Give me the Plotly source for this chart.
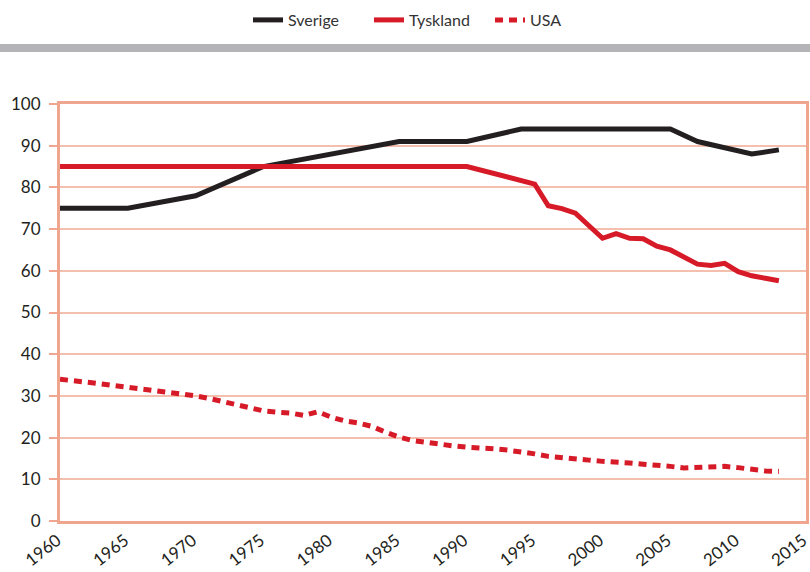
import plotly.graph_objects as go

years_sverige = [1960, 1965, 1970, 1975, 1985, 1990, 1994, 2005, 2007, 2011, 2013]
sverige = [75, 75, 78, 85, 91, 91, 94, 94, 91, 88, 89]

years_tyskland = [1960, 1990, 1995, 1996, 1997, 1998, 1999, 2000, 2001, 2002, 2003,
                  2004, 2005, 2006, 2007, 2008, 2009, 2010, 2011, 2012, 2013]
tyskland = [85, 85, 80.8, 75.6, 74.9, 73.8, 70.8, 67.8, 68.9, 67.8, 67.7,
            65.9, 65.0, 63.4, 61.6, 61.3, 61.8, 59.8, 58.8, 58.2, 57.6]

years_usa = list(range(1960, 2014))
usa = [34.0, 33.7, 33.3, 32.9, 32.5, 32.1, 31.7, 31.2, 30.8, 30.4,
       30.0, 29.4, 28.6, 27.9, 27.1, 26.4, 26.1, 25.9, 25.3, 26.2,
       24.9, 24.0, 23.5, 22.7, 21.3, 20.1, 19.3, 18.8, 18.5, 18.0,
       17.7, 17.6, 17.3, 17.0, 16.7, 16.1, 15.5, 15.1, 14.9, 14.6,
       14.3, 14.2, 13.9, 13.6, 13.4, 13.1, 12.7, 12.8, 13.2, 13.1,
       12.8, 12.3, 12.0, 11.9]

x_ticks = [1960, 1965, 1970, 1975, 1980, 1985, 1990, 1995, 2000, 2005, 2010, 2015]
y_ticks = [0, 10, 20, 30, 40, 50, 60, 70, 80, 90, 100]

BLACK = "#231f20"
RED = "#d71a28"
AXIS = "#f0a68e"
GRID = "#f5bfae"
FONT = "Lato, 'Open Sans', sans-serif"

fig = go.Figure()
fig.add_trace(go.Scatter(x=years_sverige, y=sverige, mode="lines", name="Sverige",
                         line=dict(color=BLACK, width=5)))
fig.add_trace(go.Scatter(x=years_tyskland, y=tyskland, mode="lines", name="Tyskland",
                         line=dict(color=RED, width=5)))
fig.add_trace(go.Scatter(x=years_usa, y=usa, mode="lines", name="USA",
                         line=dict(color=RED, width=5, dash="8px,6px")))

L, R, T, B = 60, 4, 104, 51
W, H = 810, 572
pw = W - L - R
ph = H - T - B

fig.update_layout(
    width=W, height=H,
    margin=dict(l=L, r=R, t=T, b=B, autoexpand=False),
    paper_bgcolor="white", plot_bgcolor="white",
    font=dict(family=FONT, color=BLACK, size=16),
    showlegend=True,
    legend=dict(orientation="h", x=(248 - L) / pw, xanchor="left",
                y=1 + (T - 20) / ph, yanchor="middle",
                entrywidth=76, entrywidthmode="pixels",
                font=dict(size=16, color="#333333"), bgcolor="rgba(0,0,0,0)"),
    xaxis=dict(range=[1960, 2015], tickvals=x_ticks, ticktext=[str(v) for v in x_ticks],
               tickangle=-38, showgrid=False, zeroline=False,
               showline=True, linecolor=AXIS, linewidth=3, mirror=True,
               ticks="", ticklabeloverflow="allow", ticklabelshift=-3,
               tickfont=dict(size=17, color=BLACK)),
    yaxis=dict(range=[0, 100], tickvals=y_ticks, showgrid=True, gridcolor=GRID, gridwidth=1.5,
               zeroline=False, showline=True, linecolor=AXIS, linewidth=3, mirror=True,
               ticks="outside", ticklen=8, tickcolor=AXIS, tickwidth=2,
               ticklabelstandoff=5,
               tickfont=dict(size=17, color=BLACK)),
    shapes=[dict(type="rect", xref="paper", yref="paper",
                 x0=-L / pw, x1=(W - L) / pw,
                 y0=1 + (T - 52) / ph, y1=1 + (T - 44) / ph,
                 fillcolor="#b4b4b7", line=dict(width=0))],
)

fig.write_html("out.html", config={"displayModeBar": False},
               post_script="document.body.style.margin='0px';")
